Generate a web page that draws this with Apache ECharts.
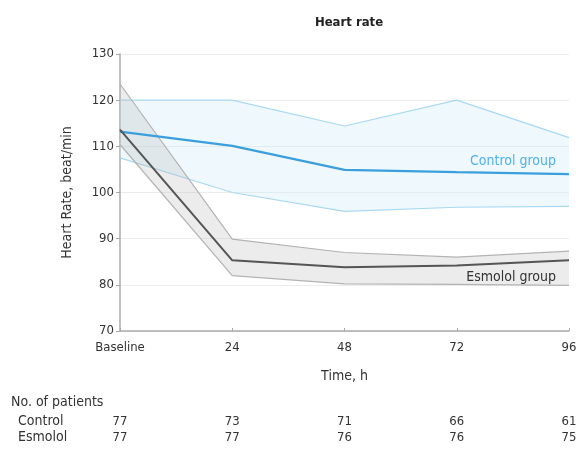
<!DOCTYPE html>
<html><head><meta charset="utf-8">
<script src="https://cdn.jsdelivr.net/npm/echarts@6/dist/echarts.min.js"></script>
<style>html,body{margin:0;padding:0;background:#fff}#c{width:582px;height:449px}</style>
</head><body><div id="c"></div>
<script>
var categories = ['Baseline', '24', '48', '72', '96'];
var controlMean = [113.2, 110.1, 104.9, 104.4, 104.0];
var controlUpper = [120.0, 120.0, 114.4, 120.0, 111.9];
var controlLower = [107.5, 100.0, 95.9, 96.8, 97.0];
var esmololMean = [113.6, 85.3, 83.8, 84.2, 85.3];
var esmololUpper = [123.5, 89.9, 87.0, 86.0, 87.3];
var esmololLower = [110.4, 82.0, 80.2, 80.1, 79.9];
var controlCounts = ['77', '73', '71', '66', '61'];
var esmololCounts = ['77', '77', '76', '76', '75'];
var yTicks = [70, 80, 90, 100, 110, 120, 130];

var FONT = '"Liberation Sans Narrow", "DejaVu Sans Condensed", "Liberation Sans", sans-serif';
function diff(a, b) { return a.map(function (v, i) { return +(v - b[i]).toFixed(2); }); }

var chart = echarts.init(document.getElementById('c'));
var countAxis = function (counts, offset) {
  return {
    type: 'category', data: counts, boundaryGap: false, position: 'bottom', offset: offset,
    gridIndex: 0, axisLine: {show: false}, axisTick: {show: false}, splitLine: {show: false},
    axisLabel: {margin: 0, color: '#333', fontFamily: FONT, fontSize: 13, interval: 0}
  };
};
chart.setOption({
  animation: false,
  title: {text: 'Heart rate', left: 344, top: 11, textAlign: 'center',
    textStyle: {fontFamily: FONT, fontSize: 13, fontWeight: 'bold', color: '#222'}},
  grid: {left: 120, right: 13, top: 54, bottom: 118},
  xAxis: [{
    type: 'category', data: categories, boundaryGap: false,
    name: 'Time, h', nameLocation: 'middle', nameGap: 38,
    nameTextStyle: {fontFamily: FONT, fontSize: 14, color: '#333'},
    axisLine: {lineStyle: {color: '#aaa', width: 1.5}},
    axisTick: {show: true, length: 3, inside: true, lineStyle: {color: '#aaa'}},
    axisLabel: {margin: 10, color: '#333', fontFamily: FONT, fontSize: 13, interval: 0},
    splitLine: {show: false}
  }, countAxis(controlCounts, 84), countAxis(esmololCounts, 100)],
  yAxis: {
    type: 'value', min: yTicks[0], max: yTicks[yTicks.length - 1], interval: 10,
    name: 'Heart Rate, beat/min', nameLocation: 'middle', nameGap: 46, nameRotate: 90,
    nameTextStyle: {fontFamily: FONT, fontSize: 14, color: '#333'},
    axisLine: {show: true, lineStyle: {color: '#aaa', width: 1.5}},
    axisTick: {show: true, length: 4, lineStyle: {color: '#aaa'}},
    axisLabel: {margin: 6, color: '#333', fontFamily: FONT, fontSize: 13},
    splitLine: {lineStyle: {color: '#ececec', width: 1}}
  },
  series: [
    {type: 'line', stack: 'ctrl', data: controlLower, symbol: 'none',
      lineStyle: {color: '#a9d9f2', width: 1.2}, z: 2},
    {type: 'line', stack: 'ctrl', data: diff(controlUpper, controlLower), symbol: 'none',
      lineStyle: {color: '#a9d9f2', width: 1.2}, areaStyle: {color: 'rgba(200,232,250,0.45)'}, z: 2},
    {type: 'line', stack: 'esm', data: esmololLower, symbol: 'none',
      lineStyle: {color: '#b3b3b3', width: 1.2}, z: 3},
    {type: 'line', stack: 'esm', data: diff(esmololUpper, esmololLower), symbol: 'none',
      lineStyle: {color: '#b3b3b3', width: 1.2}, areaStyle: {color: 'rgba(185,185,185,0.38)'}, z: 3},
    {type: 'line', name: 'Control group', data: controlMean, symbol: 'none',
      lineStyle: {color: '#3a9fdc', width: 2.2}, z: 5,
      endLabel: {show: true, formatter: 'Control group', align: 'right', offset: [-21, -13],
        color: '#4fb2e8', fontFamily: FONT, fontSize: 14}},
    {type: 'line', name: 'Esmolol group', data: esmololMean, symbol: 'none',
      lineStyle: {color: '#555', width: 2}, z: 6,
      endLabel: {show: true, formatter: 'Esmolol group', align: 'right', offset: [-21, 17],
        color: '#333', fontFamily: FONT, fontSize: 14}}
  ],
  graphic: [
    {type: 'text', left: 11, top: 395, style: {text: 'No. of patients', fontFamily: FONT, fontSize: 14, fill: '#333'}},
    {type: 'text', left: 18, top: 414, style: {text: 'Control', fontFamily: FONT, fontSize: 14, fill: '#333'}},
    {type: 'text', left: 18, top: 430, style: {text: 'Esmolol', fontFamily: FONT, fontSize: 14, fill: '#333'}}
  ]
});
</script></body></html>
